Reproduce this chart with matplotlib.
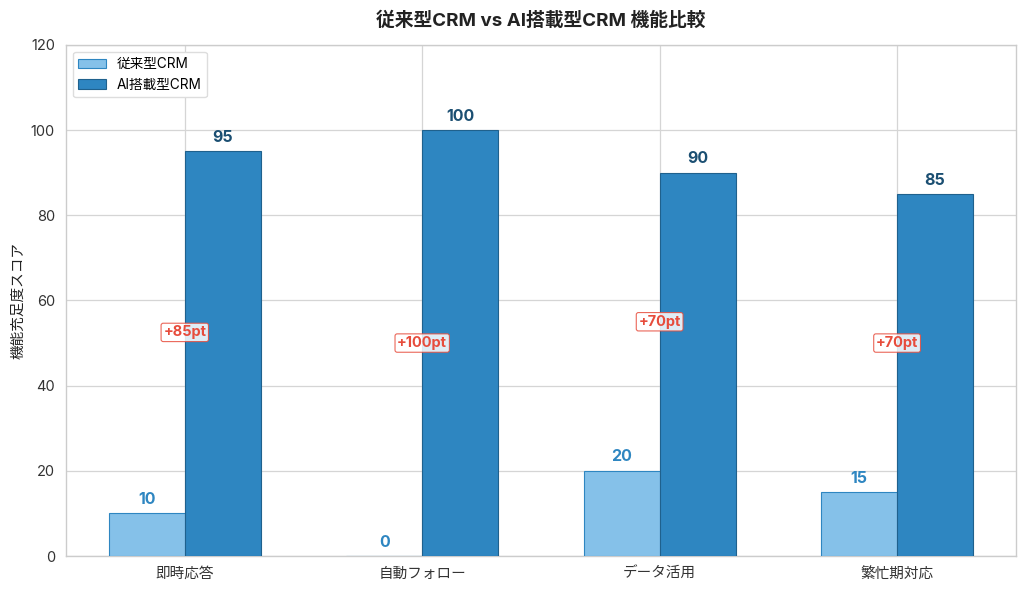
import matplotlib
matplotlib.use("Agg")
import matplotlib.pyplot as plt
import numpy as np

plt.rcParams['font.family'] = ['Inter', 'Noto Sans CJK JP', 'DejaVu Sans']

categories = ['即時応答', '自動フォロー', 'データ活用', '繁忙期対応']
traditional = [10, 0, 20, 15]
ai_crm = [95, 100, 90, 85]
series_names = ['従来型CRM', 'AI搭載型CRM']
title = '従来型CRM vs AI搭載型CRM 機能比較'
ylabel = '機能充足度スコア'

light = '#85C1E9'
dark = '#2E86C1'

fig = plt.figure(figsize=(10.24, 5.91), dpi=100)
ax = fig.add_axes([0.0645, 0.0592, 0.9275, 0.8648])

x = np.arange(len(categories))
w = 0.32
b1 = ax.bar(x - w/2, traditional, w, color=light, edgecolor='#2E86C1', linewidth=0.8,
            label=series_names[0], zorder=3)
b2 = ax.bar(x + w/2, ai_crm, w, color=dark, edgecolor='#1F618D', linewidth=0.8,
            label=series_names[1], zorder=3)

for xi, v in zip(x - w/2, traditional):
    ax.text(xi, v + 1.5, f'{v}', ha='center', va='bottom', fontsize=11.5,
            fontweight='bold', color='#2E86C1', zorder=5)
for xi, v in zip(x + w/2, ai_crm):
    ax.text(xi, v + 1.5, f'{v}', ha='center', va='bottom', fontsize=11.5,
            fontweight='bold', color='#1B4F72', zorder=5)

for xi, a, b in zip(x, traditional, ai_crm):
    ax.text(xi, (a + b) / 2, f'+{b - a}pt', ha='center', va='center', fontsize=10.5,
            fontweight='bold', color='#E74C3C', zorder=6,
            bbox=dict(boxstyle='round,pad=0.15', facecolor='white', edgecolor='#E74C3C',
                      linewidth=0.8, alpha=0.85))

ax.set_xlim(-0.5, 3.5)
ax.set_ylim(0, 120)
ax.set_yticks(np.arange(0, 121, 20))
ax.set_xticks(x)
ax.set_xticklabels(categories, fontsize=10.5, color='#333333')
ax.tick_params(axis='y', labelsize=10.5, colors='#333333')
ax.tick_params(length=0, pad=8)
ax.grid(True, color='#D5D5D5', linewidth=0.9, zorder=0)
ax.set_axisbelow(True)
for s in ax.spines.values():
    s.set_color('#CCCCCC')
    s.set_linewidth(1.0)

ax.set_ylabel(ylabel, fontsize=10.5, color='#222222')
ax.set_title(title, fontsize=13.5, fontweight='bold', color='#222222', pad=14)

leg = ax.legend(loc='upper left', fontsize=9.8, frameon=True, fancybox=True,
                edgecolor='#DDDDDD', framealpha=1.0)

fig.savefig('out.png', dpi=100, facecolor='white')
